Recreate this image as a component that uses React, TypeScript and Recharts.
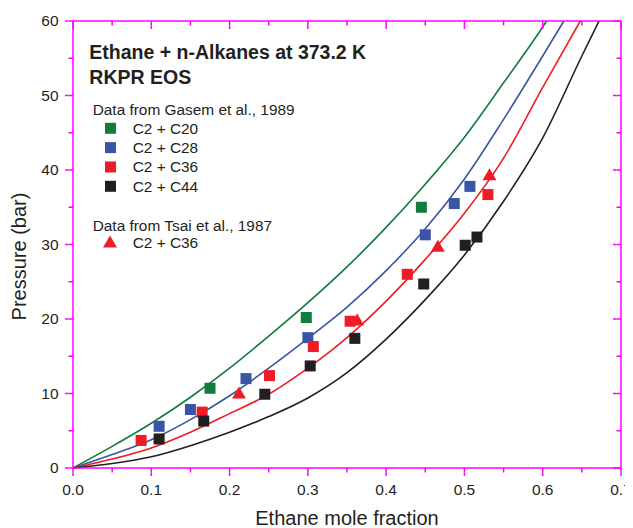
import React from 'react';
import { ComposedChart, Line, Scatter, XAxis, YAxis } from 'recharts';

// ---------- data ----------
const greenCurveX = [0, 0.05, 0.1, 0.15, 0.2, 0.25, 0.3, 0.35, 0.4, 0.45, 0.5, 0.55, 0.6, 0.605];
const greenCurveP = [0, 2.9, 6.0, 9.5, 13.4, 17.7, 22.2, 27.0, 32.3, 38.1, 44.4, 51.7, 59.2, 60];
const blueCurveX = [0, 0.05, 0.1, 0.15, 0.2, 0.25, 0.3, 0.35, 0.4, 0.45, 0.5, 0.55, 0.6, 0.627];
const blueCurveP = [0, 1.8, 3.8, 6.5, 9.7, 13.4, 17.4, 21.6, 26.5, 32.1, 38.8, 46.8, 55.3, 60];
const redCurveX = [0, 0.05, 0.1, 0.15, 0.2, 0.25, 0.3, 0.35, 0.4, 0.45, 0.5, 0.55, 0.6, 0.648];
const redCurveP = [0, 1.2, 2.7, 4.8, 7.3, 9.9, 13.4, 17.5, 22.4, 28.0, 34.2, 41.6, 51.1, 60];
const blackCurveX = [0, 0.05, 0.1, 0.15, 0.2, 0.25, 0.3, 0.35, 0.4, 0.45, 0.5, 0.55, 0.6, 0.65, 0.672];
const blackCurveP = [0, 0.6, 1.5, 3.0, 4.8, 6.9, 9.4, 12.8, 17.3, 22.6, 28.6, 35.8, 44.3, 55.3, 60];

const c20X = [0.175, 0.298, 0.445];
const c20P = [10.7, 20.2, 35.0];
const c28X = [0.110, 0.150, 0.221, 0.300, 0.450, 0.487, 0.507];
const c28P = [5.6, 7.85, 12.0, 17.5, 31.3, 35.5, 37.8];
const c36X = [0.087, 0.165, 0.251, 0.307, 0.354, 0.427, 0.530];
const c36P = [3.7, 7.5, 12.4, 16.3, 19.7, 26.0, 36.7];
const c44X = [0.110, 0.167, 0.245, 0.303, 0.360, 0.448, 0.501, 0.516];
const c44P = [3.9, 6.3, 9.9, 13.7, 17.4, 24.7, 29.9, 31.0];
const tsaiX = [0.212, 0.363, 0.466, 0.532];
const tsaiP = [10.0, 19.8, 29.7, 39.3];

const xTicks = [0, 0.05, 0.1, 0.15, 0.2, 0.25, 0.3, 0.35, 0.4, 0.45, 0.5, 0.55, 0.6, 0.65, 0.7];
const yTicks = [0, 5, 10, 15, 20, 25, 30, 35, 40, 45, 50, 55, 60];

const toPts = (xs: number[], ys: number[]) => xs.map((x, i) => ({ x, y: ys[i] }));

// ---------- style ----------
const GREEN = '#0e7d3d';
const BLUE = '#3a55a5';
const RED = '#ee1d25';
const BLACK = '#231f20';
const AXIS = 'magenta';
const FONT = '"Liberation Sans", Arial, Helvetica, sans-serif';
const MINOR = 4.5;
const EXTRA = 3.5;

const isMajorX = (v: number) => Math.abs(v * 10 - Math.round(v * 10)) < 1e-6;
const isMajorY = (v: number) => Math.abs(v / 10 - Math.round(v / 10)) < 1e-6;

const BottomTick = (props: any) => {
  const { x, y, payload } = props;
  const v = payload.value as number;
  if (!isMajorX(v)) return <g />;
  return (
    <g>
      <line x1={x} y1={y} x2={x} y2={y + EXTRA} stroke={AXIS} strokeWidth={1.5} />
      <text x={x} y={y + 22.5} textAnchor="middle" fontSize={15.5} fontFamily={FONT} fill={BLACK}>
        {v.toFixed(1)}
      </text>
    </g>
  );
};

const TopTick = (props: any) => {
  const { x, y, payload } = props;
  if (!isMajorX(payload.value)) return <g />;
  return <line x1={x} y1={y} x2={x} y2={y + EXTRA} stroke={AXIS} strokeWidth={1.5} />;
};

const LeftTick = (props: any) => {
  const { x, y, payload } = props;
  const v = payload.value as number;
  if (!isMajorY(v)) return <g />;
  return (
    <g>
      <line x1={x} y1={y} x2={x - EXTRA} y2={y} stroke={AXIS} strokeWidth={1.5} />
      <text x={x - 9.9} y={y + 5.3} textAnchor="end" fontSize={15.5} fontFamily={FONT} fill={BLACK}>
        {String(v)}
      </text>
    </g>
  );
};

const RightTick = (props: any) => {
  const { x, y, payload } = props;
  if (!isMajorY(payload.value)) return <g />;
  return <line x1={x} y1={y} x2={x - EXTRA} y2={y} stroke={AXIS} strokeWidth={1.5} />;
};

const square = (color: string) => (p: any) => (
  <rect x={p.cx - 5.5} y={p.cy - 5.5} width={11} height={11} fill={color} />
);
const triangle = (color: string) => (p: any) => (
  <path d={`M${p.cx},${p.cy - 7} L${p.cx + 7},${p.cy + 5} L${p.cx - 7},${p.cy + 5} Z`} fill={color} />
);

const XTitle = (p: any) => {
  const vb = p.viewBox;
  return (
    <text x={vb.x + vb.width / 2} y={vb.y + 57} textAnchor="middle" fontSize={20} fontFamily={FONT} fill={BLACK}>
      Ethane mole fraction
    </text>
  );
};
const YTitle = (p: any) => {
  const vb = p.viewBox;
  const cx = 18;
  const cy = vb.y + vb.height / 2 + 12;
  return (
    <text x={cx} y={cy} transform={`rotate(-90, ${cx}, ${cy})`} textAnchor="middle" fontSize={20} fontFamily={FONT} fill={BLACK}>
      Pressure (bar)
    </text>
  );
};

const legendRows = [
  { label: 'C2 + C20', color: GREEN },
  { label: 'C2 + C28', color: BLUE },
  { label: 'C2 + C36', color: RED },
  { label: 'C2 + C44', color: BLACK },
];

export default function App() {
  return (
    <ComposedChart width={625} height={520} margin={{ top: 13, right: 12, bottom: 0, left: 0 }}>
      <XAxis xAxisId={0} type="number" dataKey="x" domain={[0, 0.7]} ticks={xTicks} interval={0} height={60}
        tickSize={MINOR} tickMargin={0} stroke={AXIS} strokeWidth={1.5} tick={<BottomTick />}
        label={{ content: XTitle } as any} />
      <XAxis xAxisId="top" orientation="top" type="number" dataKey="x" domain={[0, 0.7]} ticks={xTicks} interval={0}
        height={20} mirror tickSize={MINOR} tickMargin={0} stroke={AXIS} strokeWidth={1.5} tick={<TopTick />} />
      <YAxis yAxisId={0} type="number" dataKey="y" domain={[0, 60]} ticks={yTicks} interval={0} width={65}
        tickSize={MINOR} tickMargin={0} stroke={AXIS} strokeWidth={1.5} tick={<LeftTick />}
        label={{ content: YTitle } as any} />
      <YAxis yAxisId="right" orientation="right" type="number" dataKey="y" domain={[0, 60]} ticks={yTicks} interval={0}
        width={20} mirror tickSize={MINOR} tickMargin={0} stroke={AXIS} strokeWidth={1.5} tick={<RightTick />} />

      <Line data={toPts(greenCurveX, greenCurveP)} dataKey="y" type="monotone" stroke={GREEN} strokeWidth={1.6} dot={false} isAnimationActive={false} />
      <Line data={toPts(blueCurveX, blueCurveP)} dataKey="y" type="monotone" stroke={BLUE} strokeWidth={1.6} dot={false} isAnimationActive={false} />
      <Line data={toPts(redCurveX, redCurveP)} dataKey="y" type="monotone" stroke={RED} strokeWidth={1.6} dot={false} isAnimationActive={false} />
      <Line data={toPts(blackCurveX, blackCurveP)} dataKey="y" type="monotone" stroke={BLACK} strokeWidth={1.6} dot={false} isAnimationActive={false} />

      <Scatter xAxisId="top" yAxisId="right" data={toPts(c20X, c20P)} fill={GREEN} shape={square(GREEN)} isAnimationActive={false} />
      <Scatter xAxisId="top" yAxisId="right" data={toPts(c28X, c28P)} fill={BLUE} shape={square(BLUE)} isAnimationActive={false} />
      <Scatter xAxisId="top" yAxisId="right" data={toPts(c36X, c36P)} fill={RED} shape={square(RED)} isAnimationActive={false} />
      <Scatter xAxisId="top" yAxisId="right" data={toPts(c44X, c44P)} fill={BLACK} shape={square(BLACK)} isAnimationActive={false} />
      <Scatter xAxisId="top" yAxisId="right" data={toPts(tsaiX, tsaiP)} fill={RED} shape={triangle(RED)} isAnimationActive={false} />

      <g>
        <text x={81.3} y={51} fontSize={19.5} fontWeight="bold" fontFamily={FONT} fill={BLACK}>
          Ethane + n-Alkanes at 373.2 K
        </text>
        <text x={81.3} y={76} fontSize={19.5} fontWeight="bold" fontFamily={FONT} fill={BLACK}>
          RKPR EOS
        </text>
        <text x={84.7} y={107} fontSize={15.4} fontFamily={FONT} fill={BLACK}>
          Data from Gasem et al., 1989
        </text>
        {legendRows.map((r, i) => {
          const cy = 120.3 + i * 19.33;
          return (
            <g key={r.label}>
              <rect x={97} y={cy - 5.5} width={11} height={11} fill={r.color} />
              <text x={124.7} y={cy + 5.5} fontSize={15.4} fontFamily={FONT} fill={BLACK}>
                {r.label}
              </text>
            </g>
          );
        })}
        <text x={84.7} y={223} fontSize={15.4} fontFamily={FONT} fill={BLACK}>
          Data from Tsai et al., 1987
        </text>
        <path d="M102,227.5 L109,239.5 L95,239.5 Z" fill={RED} />
        <text x={124.7} y={239.5} fontSize={15.4} fontFamily={FONT} fill={BLACK}>
          C2 + C36
        </text>
      </g>
    </ComposedChart>
  );
}
